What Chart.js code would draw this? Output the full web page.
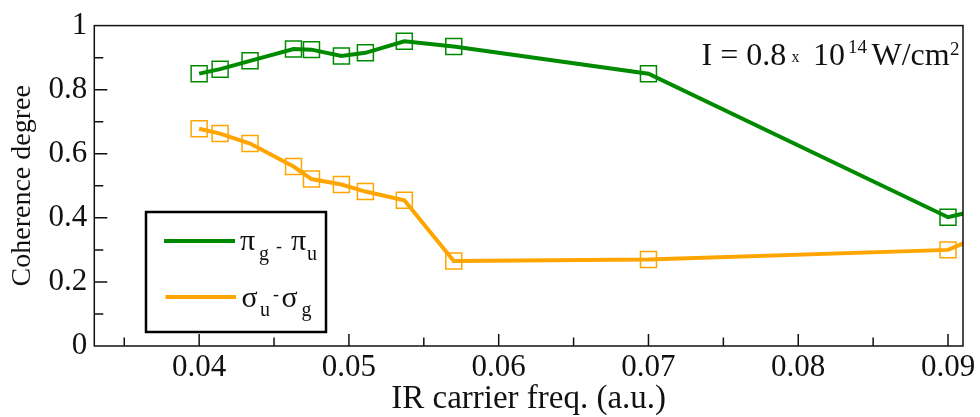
<!DOCTYPE html>
<html>
<head>
<meta charset="utf-8">
<script src="https://cdn.jsdelivr.net/npm/chart.js@4/dist/chart.umd.min.js"></script>
<style>
  body { margin: 0; background: #fff; }
  #wrap { width: 980px; height: 417px; }
</style>
</head>
<body>
<div id="wrap"><canvas id="coherence-chart" width="980" height="417"></canvas></div>
<script>
// IR carrier frequency (a.u.)
const freq = [0.04, 0.0414, 0.0434, 0.0463, 0.0475, 0.0495, 0.0511, 0.0537, 0.057, 0.07, 0.09, 0.092];
// coherence degree, pi_g - pi_u
const piValues = [0.85, 0.864, 0.89, 0.927, 0.925, 0.905, 0.915, 0.951, 0.935, 0.85, 0.402, 0.424];
// coherence degree, sigma_u - sigma_g
const sigmaValues = [0.678, 0.663, 0.632, 0.56, 0.521, 0.504, 0.482, 0.455, 0.265, 0.27, 0.30, 0.34];

const xTicks = [0.035, 0.04, 0.045, 0.05, 0.055, 0.06, 0.065, 0.07, 0.075, 0.08, 0.085, 0.09];
const yTicks = [0, 0.1, 0.2, 0.3, 0.4, 0.5, 0.6, 0.7, 0.8, 0.9, 1];

const GREEN = "#008a00";
const ORANGE = "#ffa500";
const SERIF = "'Liberation Serif', 'DejaVu Serif', serif";

const toPoints = vals => freq.map((f, i) => ({ x: f, y: vals[i] }));

const isMajorX = v => Math.abs(v * 100 - Math.round(v * 100)) < 1e-6;
const isMajorY = v => Math.round(v * 10) % 2 === 0;

const lineSet = (vals, color) => ({
  data: toPoints(vals),
  borderColor: color,
  borderWidth: 4,
  pointRadius: 0,
  tension: 0,
  clip: 0,
  order: 1,
});
const markerSet = (vals, color) => ({
  data: toPoints(vals),
  showLine: false,
  pointStyle: "rect",
  pointRadius: 11.3,
  pointBorderWidth: 1.5,
  pointBorderColor: color,
  pointBackgroundColor: "rgba(0,0,0,0)",
  clip: 0,
  order: 2,
});

// frame, inward ticks, legend box and the intensity note
const decorations = {
  id: "decorations",
  afterDraw(chart) {
    const ctx = chart.ctx;
    const { left, right, top, bottom } = chart.chartArea;
    const xs = chart.scales.x, ys = chart.scales.y;
    ctx.save();
    ctx.strokeStyle = "#111";
    ctx.lineWidth = 1.5;
    ctx.strokeRect(left, top, right - left, bottom - top);

    ctx.beginPath();
    xTicks.forEach(v => {
      const px = xs.getPixelForValue(v);
      const len = isMajorX(v) ? 12 : 8.5;
      ctx.moveTo(px, bottom);
      ctx.lineTo(px, bottom - len);
    });
    yTicks.forEach(v => {
      if (v === 0 || v === 1) return;
      const py = ys.getPixelForValue(v);
      const len = isMajorY(v) ? 13 : 9;
      ctx.moveTo(left, py);
      ctx.lineTo(left + len, py);
    });
    ctx.stroke();

    // legend
    ctx.fillStyle = "#fff";
    ctx.fillRect(146, 212, 180, 120);
    ctx.lineWidth = 2.5;
    ctx.strokeStyle = "#000";
    ctx.strokeRect(146, 212, 180, 120);
    ctx.lineWidth = 4;
    ctx.strokeStyle = GREEN;
    ctx.beginPath(); ctx.moveTo(164, 241); ctx.lineTo(235, 241); ctx.stroke();
    ctx.strokeStyle = ORANGE;
    ctx.beginPath(); ctx.moveTo(165.5, 297); ctx.lineTo(236, 297); ctx.stroke();

    ctx.fillStyle = "#111";
    ctx.textBaseline = "alphabetic";
    ctx.textAlign = "left";
    const big = "30px " + SERIF, small = "20px " + SERIF, dash = "18px " + SERIF;
    const put = (txt, font, x, y) => { ctx.font = font; ctx.fillText(txt, x, y); };
    put("\u03C0", big, 240, 250);
    put("g", small, 259, 260);
    put("-", dash, 276, 252);
    put("\u03C0", big, 291, 250);
    put("u", small, 307, 260);

    put("\u03C3", big, 241.5, 306.5);
    put("u", small, 260, 316);
    put("-", dash, 273, 300);
    put("\u03C3", big, 281.5, 306.5);
    put("g", small, 301.5, 316);

    // intensity note
    const note = "32px " + SERIF, sup = "19px " + SERIF;
    put("I = 0.8", note, 701.5, 65);
    put("x", "16px " + SERIF, 791.5, 62);
    put("10", note, 813, 65);
    put("14", sup, 848, 53);
    put("W/cm", note, 871.5, 65);
    put("2", sup, 950, 55);
    ctx.restore();
  },
};

const chart = new Chart(document.getElementById("coherence-chart").getContext("2d"), {
  type: "line",
  data: {
    datasets: [
      lineSet(piValues, GREEN),
      lineSet(sigmaValues, ORANGE),
      markerSet(piValues, GREEN),
      markerSet(sigmaValues, ORANGE),
    ],
  },
  options: {
    responsive: false,
    animation: false,
    events: [],
    layout: { autoPadding: false, padding: { top: 20, right: 17, left: 0, bottom: 0 } },
    plugins: { legend: { display: false }, tooltip: { enabled: false } },
    scales: {
      x: {
        type: "linear",
        min: 0.033,
        max: 0.091,
        afterBuildTicks: scale => { scale.ticks = xTicks.map(v => ({ value: v })); },
        afterFit: scale => { scale.height = 71; },
        grid: { display: false, drawTicks: false },
        border: { display: false },
        ticks: {
          autoSkip: false,
          maxRotation: 0,
          padding: 3,
          color: "#111",
          font: { family: SERIF, size: 31 },
          callback: v => (isMajorX(v) ? v.toFixed(2) : ""),
        },
        title: {
          display: true,
          text: "IR carrier freq. (a.u.)",
          color: "#111",
          font: { family: SERIF, size: 33, lineHeight: 1 },
          padding: { top: 0, bottom: 1 },
        },
      },
      y: {
        min: 0,
        max: 1,
        afterBuildTicks: scale => { scale.ticks = yTicks.map(v => ({ value: v })); },
        afterFit: scale => { scale.width = 94.3; },
        grid: { display: false, drawTicks: false },
        border: { display: false },
        ticks: {
          autoSkip: false,
          padding: 7,
          color: "#111",
          font: { family: SERIF, size: 31 },
          callback: v => (isMajorY(v) ? (v === 0 ? "0" : v === 1 ? "1" : v.toFixed(1)) : ""),
        },
        title: {
          display: true,
          text: "Coherence degree",
          color: "#111",
          font: { family: SERIF, size: 28, lineHeight: 1 },
          padding: { top: 9, bottom: 0 },
        },
      },
    },
  },
  plugins: [decorations],
});
</script>
</body>
</html>
